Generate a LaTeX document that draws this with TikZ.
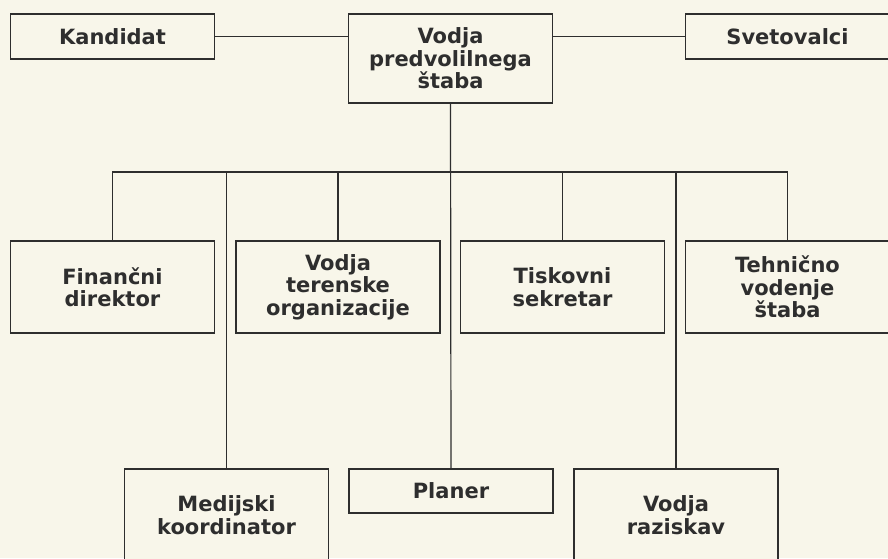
\documentclass[tikz,border=0pt]{standalone}
\usepackage{fontspec}
\setmainfont{DejaVu Sans}
\definecolor{paper}{HTML}{F8F6EA}
\definecolor{ink}{HTML}{2E2E2E}
\begin{document}
\begin{tikzpicture}[x=0.5pt,y=-0.5pt,
  box/.style={draw=ink, line width=0.8pt, fill=paper, text=ink, align=center,
    minimum width=102pt, inner sep=0pt,
    font=\bfseries\fontsize{10.5}{11.2}\selectfont},
  link/.style={draw=ink, line width=0.6pt}]
\fill[paper] (0,0) rectangle (888,558);
\useasboundingbox (0,0) rectangle (888,558);
\clip (0,0) rectangle (888,558);
% row 1
\node[box, minimum height=22.5pt] (kand) at (112.5,36.5) {Kandidat};
\node[box, minimum height=44.5pt] (vps) at (450.5,58.5) {Vodja\\predvolilnega\\štaba};
\node[box, minimum height=22.5pt] (svet) at (787.5,36.5) {Svetovalci};
% row 2
\node[box, minimum height=46pt] (fin) at (112.5,287) {Finančni\\direktor};
\node[box, minimum height=46pt] (ter) at (338,287) {Vodja\\terenske\\organizacije};
\node[box, minimum height=46pt] (tisk) at (562.5,287) {Tiskovni\\sekretar};
\node[box, minimum height=46pt] (teh) at (787.5,287) {Tehnično\\vodenje\\štaba};
% row 3
\node[box, minimum height=46pt] (med) at (226.5,515) {Medijski\\koordinator};
\node[box, minimum height=22pt] (plan) at (451,491) {Planer};
\node[box, minimum height=46pt] (raz) at (676,515) {Vodja\\raziskav};
% connectors
\coordinate (bar) at (451,172);
\draw[link] (kand.east) -- (kand.east -| vps.west);
\draw[link] (svet.west) -- (svet.west -| vps.east);
\draw[link] (vps.south) -- (plan.north);
\draw[link] (fin.north) -- (fin.north |- bar) -- (teh.north |- bar) -- (teh.north);
\draw[link] (ter.north) -- (ter.north |- bar);
\draw[link] (tisk.north) -- (tisk.north |- bar);
\draw[link] (med.north) -- (med.north |- bar);
\draw[link] (raz.north) -- (raz.north |- bar);
\end{tikzpicture}
\end{document}
